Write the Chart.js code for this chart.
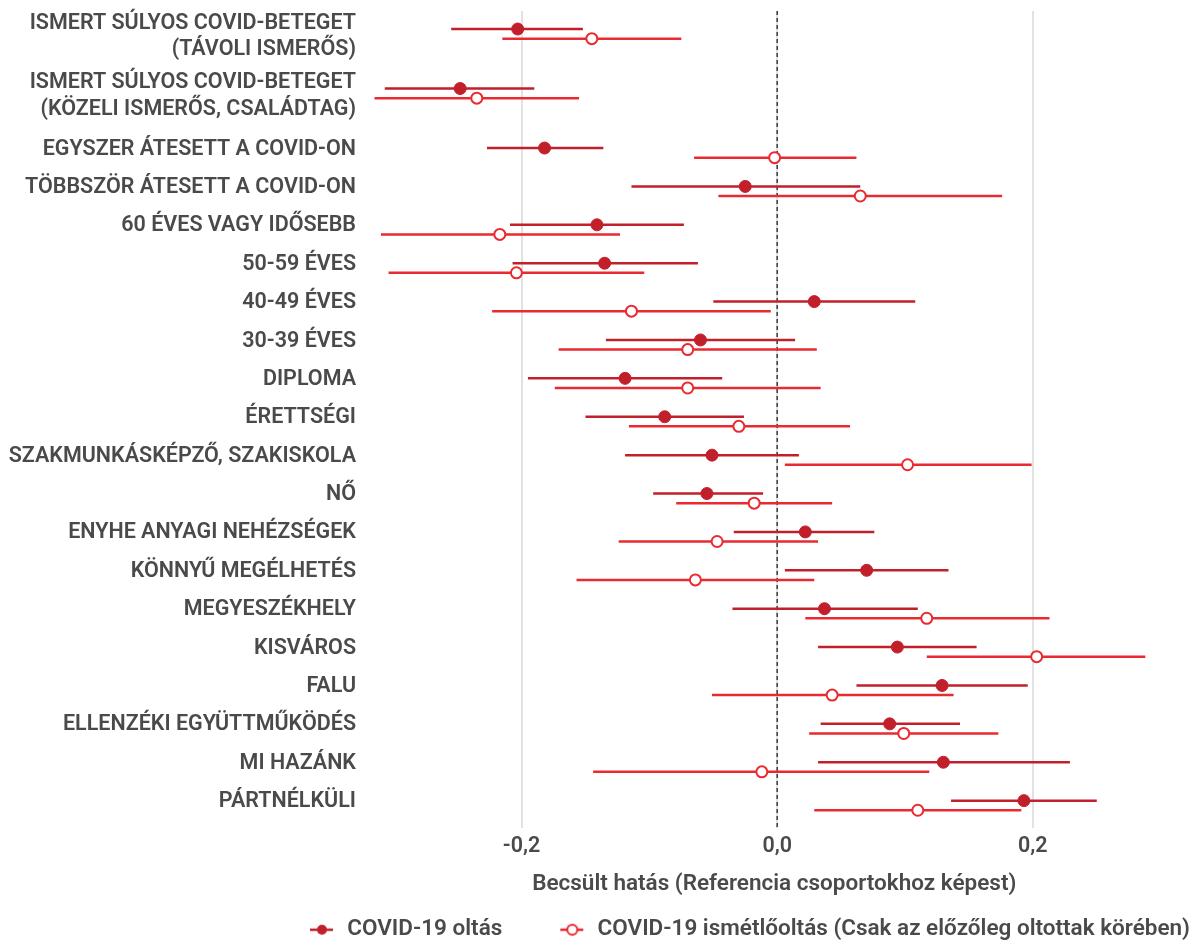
<!DOCTYPE html>
<html>
<head>
<meta charset="utf-8">
<script src="https://cdn.jsdelivr.net/npm/chart.js@4"></script>
<style>
  html, body { margin: 0; padding: 0; background: #fff; }
  #wrap { width: 1194px; height: 941px; }
</style>
</head>
<body>
<div id="wrap"><canvas id="chart"></canvas></div>
<script>
const categories = [
  ['ISMERT SÚLYOS COVID-BETEGET', '(TÁVOLI ISMERŐS)'],
  ['ISMERT SÚLYOS COVID-BETEGET', '(KÖZELI ISMERŐS, CSALÁDTAG)'],
  'EGYSZER ÁTESETT A COVID-ON',
  'TÖBBSZÖR ÁTESETT A COVID-ON',
  '60 ÉVES VAGY IDŐSEBB',
  '50-59 ÉVES',
  '40-49 ÉVES',
  '30-39 ÉVES',
  'DIPLOMA',
  'ÉRETTSÉGI',
  'SZAKMUNKÁSKÉPZŐ, SZAKISKOLA',
  'NŐ',
  'ENYHE ANYAGI NEHÉZSÉGEK',
  'KÖNNYŰ MEGÉLHETÉS',
  'MEGYESZÉKHELY',
  'KISVÁROS',
  'FALU',
  'ELLENZÉKI EGYÜTTMŰKÖDÉS',
  'MI HAZÁNK',
  'PÁRTNÉLKÜLI'
];

// COVID-19 oltás
const vaxEst  = [-0.203, -0.248, -0.182, -0.025, -0.141, -0.135, 0.029, -0.060, -0.119, -0.088, -0.051, -0.055, 0.022, 0.070, 0.037, 0.094, 0.129, 0.088, 0.130, 0.193];
const vaxLow  = [-0.255, -0.307, -0.227, -0.114, -0.209, -0.207, -0.050, -0.134, -0.195, -0.150, -0.119, -0.097, -0.034, 0.006, -0.035, 0.032, 0.062, 0.034, 0.032, 0.136];
const vaxHigh = [-0.152, -0.190, -0.136, 0.065, -0.073, -0.062, 0.108, 0.014, -0.043, -0.026, 0.017, -0.011, 0.076, 0.134, 0.110, 0.156, 0.196, 0.143, 0.229, 0.250];

// COVID-19 ismétlőoltás
const boostEst  = [-0.145, -0.235, -0.002, 0.065, -0.217, -0.204, -0.114, -0.070, -0.070, -0.030, 0.102, -0.018, -0.047, -0.064, 0.117, 0.203, 0.043, 0.099, -0.012, 0.110];
const boostLow  = [-0.215, -0.315, -0.065, -0.046, -0.310, -0.304, -0.223, -0.171, -0.174, -0.116, 0.006, -0.079, -0.124, -0.157, 0.022, 0.117, -0.051, 0.025, -0.144, 0.029];
const boostHigh = [-0.075, -0.155, 0.062, 0.176, -0.123, -0.104, -0.005, 0.031, 0.034, 0.057, 0.199, 0.043, 0.032, 0.029, 0.213, 0.288, 0.138, 0.173, 0.119, 0.191];

const xTicks = [-0.2, 0, 0.2];
const xTickLabels = ['-0,2', '0,0', '0,2'];

const seriesNames = ['COVID-19 oltás', 'COVID-19 ismétlőoltás (Csak az előzőleg oltottak körében)'];

const DARK = '#c1202b';
const BRIGHT = '#ea2a31';
const TEXT = '#4a4a4a';
const FONT = 'Roboto';

// row positions: two-line labels take more room
const rowPos = [];
let p = 0;
categories.forEach((c) => {
  rowPos.push(p);
  p += Array.isArray(c) ? 1.55 : 1;
});
const dodge = 0.25;
const yMin = -0.47, yMax = rowPos[rowPos.length - 1] + 0.7;

function points(est, shift) {
  return est.map((v, i) => ({ x: v, y: rowPos[i] + shift }));
}
function ranges(lo, hi, shift) {
  const out = [];
  lo.forEach((v, i) => {
    out.push({ x: v, y: rowPos[i] + shift });
    out.push({ x: hi[i], y: rowPos[i] + shift });
    out.push({ x: v, y: null });
  });
  return out;
}

// legend icon: transparent left part acts as gap between items
function legendIcon(filled) {
  const c = document.createElement('canvas');
  c.width = 80; c.height = 14;
  const g = c.getContext('2d');
  g.strokeStyle = filled ? DARK : BRIGHT;
  g.lineWidth = 2.5;
  g.beginPath(); g.moveTo(54, 7); g.lineTo(77, 7); g.stroke();
  g.beginPath(); g.arc(66, 7, 5, 0, Math.PI * 2);
  g.fillStyle = filled ? DARK : '#fff';
  g.fill();
  if (!filled) { g.lineWidth = 2; g.stroke(); }
  return c;
}
const icons = [legendIcon(true), legendIcon(false)];

const ctx = document.getElementById('chart').getContext('2d');

new Chart(ctx, {
  type: 'scatter',
  data: {
    datasets: [
      {
        label: 'zero',
        data: [{ x: 0, y: yMin }, { x: 0, y: yMax }],
        showLine: true,
        borderColor: '#3a3a3a',
        borderWidth: 1.5,
        borderDash: [4, 3],
        pointRadius: 0,
        order: 5
      },
      {
        label: seriesNames[0] + ' ci',
        data: ranges(vaxLow, vaxHigh, 0),
        showLine: true,
        spanGaps: false,
        borderColor: DARK,
        borderWidth: 2.5,
        pointRadius: 0,
        order: 4
      },
      {
        label: seriesNames[1] + ' ci',
        data: ranges(boostLow, boostHigh, dodge),
        showLine: true,
        spanGaps: false,
        borderColor: BRIGHT,
        borderWidth: 2.5,
        pointRadius: 0,
        order: 3
      },
      {
        label: seriesNames[0],
        data: points(vaxEst, 0),
        backgroundColor: DARK,
        borderColor: DARK,
        borderWidth: 1,
        pointRadius: 6,
        order: 2
      },
      {
        label: seriesNames[1],
        data: points(boostEst, dodge),
        backgroundColor: '#fff',
        borderColor: BRIGHT,
        borderWidth: 2,
        pointRadius: 5.5,
        order: 1
      }
    ]
  },
  options: {
    responsive: true,
    maintainAspectRatio: false,
    animation: false,
    layout: { padding: { top: 11, right: 0, bottom: -10, left: 0 } },
    plugins: {
      tooltip: { enabled: false },
      legend: {
        position: 'bottom',
        align: 'end',
        labels: {
          usePointStyle: true,
          pointStyleWidth: 80,
          padding: 4,
          color: TEXT,
          font: { family: FONT, size: 22.5, weight: '600' },
          generateLabels: () => seriesNames.map((name, i) => ({
            text: name,
            pointStyle: icons[i],
            fontColor: TEXT,
            lineWidth: 0,
            datasetIndex: 3 + i
          }))
        }
      }
    },
    scales: {
      x: {
        type: 'linear',
        min: -0.3248,
        max: 0.3202,
        afterBuildTicks: (scale) => { scale.ticks = xTicks.map(v => ({ value: v })); },
        afterFit: (scale) => { scale.paddingLeft = 0; scale.paddingRight = 0; },
        ticks: {
          padding: 8,
          color: TEXT,
          font: { family: FONT, size: 21.5, weight: '600', lineHeight: 1 },
          callback: (v, i) => xTickLabels[i]
        },
        grid: { color: '#e2e2e2', lineWidth: 2, drawTicks: false },
        border: { display: false },
        title: {
          display: true,
          text: 'Becsült hatás (Referencia csoportokhoz képest)',
          color: TEXT,
          font: { family: FONT, size: 22.5, weight: '600', lineHeight: 1 },
          padding: { top: 8, bottom: 19 }
        }
      },
      y: {
        type: 'linear',
        reverse: true,
        min: yMin,
        max: yMax,
        afterBuildTicks: (scale) => {
          scale.ticks = rowPos.map((v, i) => ({ value: v + (Array.isArray(categories[i]) ? 0.2 : 0.03) }));
        },
        afterFit: (scale) => { scale.width = 362; scale.paddingTop = 0; scale.paddingBottom = 0; },
        ticks: {
          autoSkip: false,
          padding: 6,
          color: TEXT,
          font: { family: FONT, size: 21.5, weight: '600', lineHeight: 1.22 },
          callback: (v, i) => categories[i]
        },
        grid: { display: false, drawTicks: false },
        border: { display: false }
      }
    }
  }
});
</script>
</body>
</html>
